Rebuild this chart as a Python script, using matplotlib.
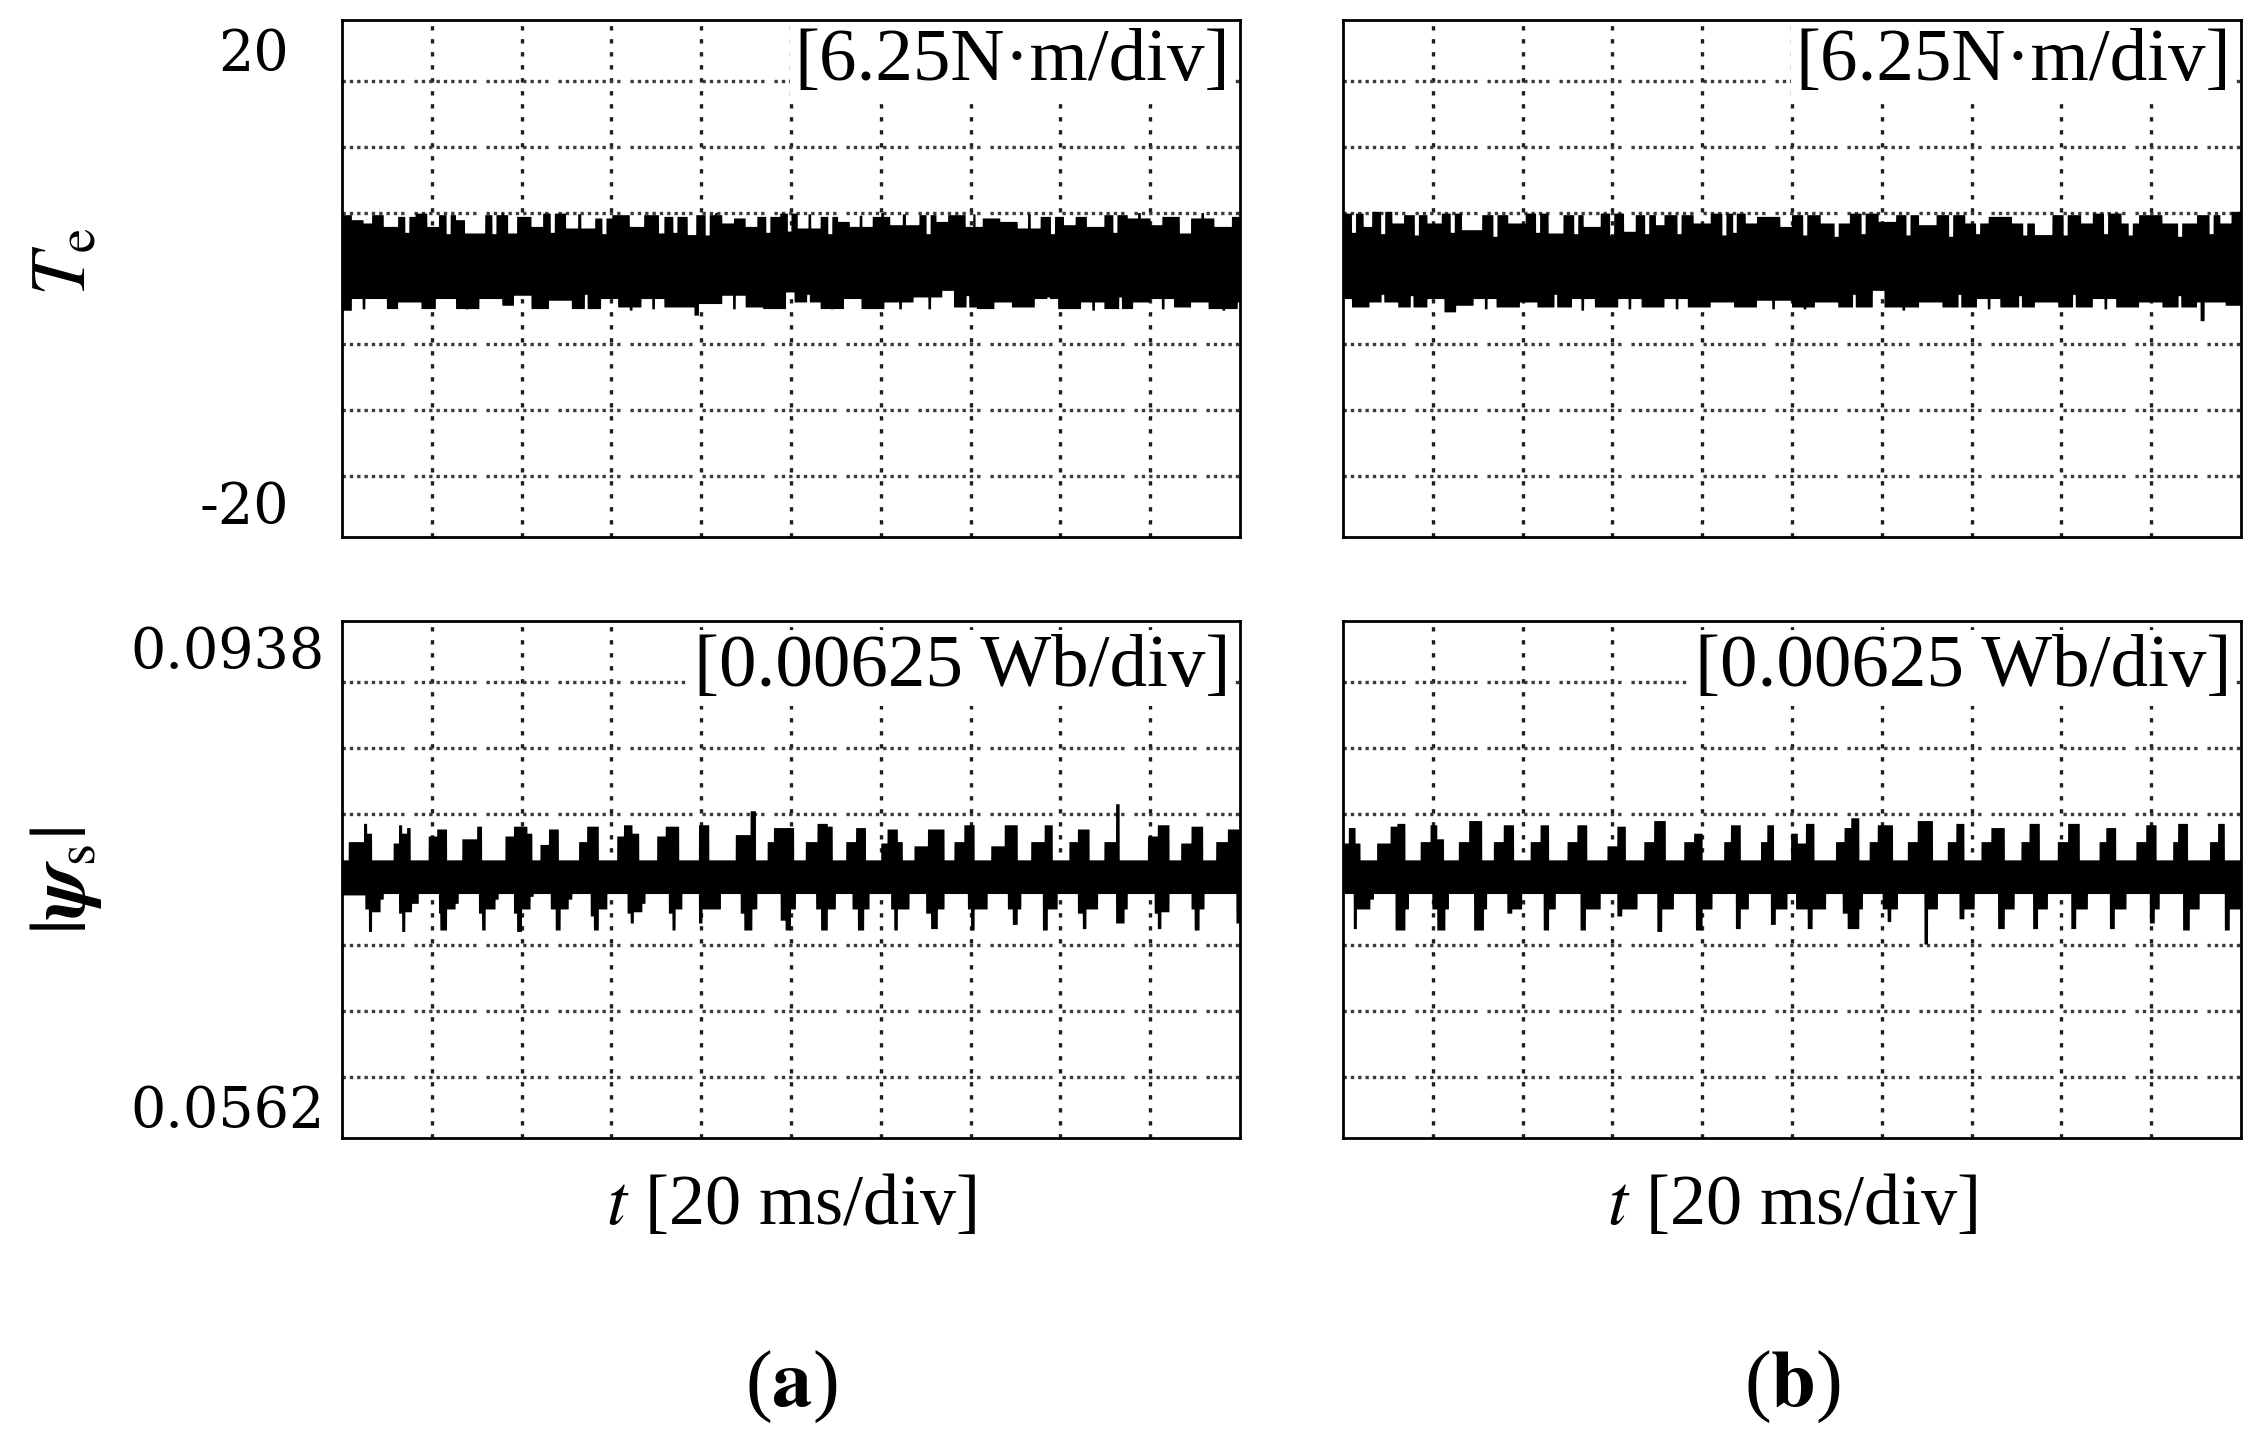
import numpy as np
import matplotlib
matplotlib.use("Agg")
import matplotlib.pyplot as plt

# ---------------- data (time in ms, envelope values) -------------
T_MIN, T_MAX = 0.0, 200.0          # 20 ms/div, 10 div
TE_CENTER, TE_DIV = 0.0, 5.0       # torque axis: -20 ... 20 over 8 div
PSI_CENTER, PSI_DIV = 0.075, 0.0047  # flux axis: 0.0562 ... 0.0938 over 8 div

TE_TICKLABELS = ["20", "-20"]
PSI_TICKLABELS = ["0.0938", "0.0562"]
TE_SCALE_TEXT = "[6.25N\u00b7m/div]"
PSI_SCALE_TEXT = "[0.00625 Wb/div]"
X_LABEL = r"$t$ [20 ms/div]"
PANEL_TAGS = [r"($\mathbf{a}$)", r"($\mathbf{b}$)"]

# torque band envelope, panel (a): (time ms, value N·m), step-wise
TE_A_UPPER = [(0, 4.84), (2.1, 4.46), (4.7, 4.21), (6.6, 4.84), (9.2, 3.95), (12.4, 4.71),
              (16.3, 4.96), (18.9, 3.95), (21.5, 4.84), (25.3, 4.46), (27.3, 3.45), (31.8, 4.84),
              (36.9, 3.45), (38.9, 4.71), (42.1, 3.95), (44.7, 4.96), (49.8, 3.83), (56.3, 4.59),
              (60.1, 4.84), (64.0, 3.95), (67.2, 4.84), (70.5, 3.45), (71.7, 4.71), (76.9, 3.33),
              (78.8, 4.84), (84.6, 4.21), (87.2, 4.59), (89.8, 3.95), (92.4, 4.71), (97.5, 4.96),
              (101.4, 3.83), (106.5, 4.71), (110.4, 4.33), (113.0, 3.95), (118.1, 4.71), (122.0, 4.08),
              (128.5, 4.84), (132.3, 4.33), (134.9, 4.84), (138.8, 3.95), (142.6, 4.59), (146.5, 4.33),
              (150.4, 3.83), (155.5, 4.71), (160.7, 4.08), (163.3, 4.71), (165.8, 3.95), (169.7, 4.84),
              (174.9, 4.59), (180.0, 4.08), (182.6, 4.71), (186.5, 3.45), (189.0, 4.59), (194.2, 3.95),
              (198.1, 4.71)]
# thin notches / spikes on that edge: (start ms, end ms, value)
TE_A_UPPER_THIN = [(14.0, 14.9, 3.5), (23.2, 24.1, 3.4), (33.4, 34.3, 3.4), (35.5, 36.0, 5.0),
                   (46.4, 47.3, 3.5), (52.5, 53.2, 4.9), (57.9, 58.8, 3.4), (73.7, 74.6, 3.5),
                   (80.9, 81.8, 3.3), (83.0, 83.5, 5.0), (94.4, 95.3, 3.5), (99.2, 100.0, 3.6),
                   (103.8, 104.4, 4.9), (108.2, 109.1, 3.4), (115.2, 115.8, 4.8), (120.0, 120.6, 5.0),
                   (124.8, 125.5, 4.9), (130.1, 131.0, 3.4), (140.5, 141.0, 4.9), (152.7, 153.3, 4.9),
                   (157.8, 158.7, 3.4), (171.7, 172.6, 3.5), (177.2, 177.8, 5.0), (191.3, 191.9, 5.0)]
TE_A_LOWER = [(0, -2.41), (2.1, -1.52), (9.9, -2.28), (12.4, -1.78), (17.6, -2.28), (20.8, -1.52),
              (25.3, -2.28), (30.5, -1.52), (35.6, -2.03), (38.2, -1.27), (42.1, -2.28), (46.0, -1.65),
              (51.1, -2.28), (57.6, -1.52), (61.4, -2.16), (66.6, -1.52), (71.7, -2.16), (76.9, -2.16),
              (78.4, -2.78), (79.4, -1.90), (84.6, -1.27), (89.8, -2.16), (93.7, -2.28), (98.8, -1.02),
              (100.7, -1.78), (106.5, -2.28), (111.7, -1.52), (115.6, -2.28), (120.7, -1.78),
              (127.2, -1.40), (133.6, -0.90), (136.2, -2.16), (141.3, -2.28), (145.2, -1.78),
              (149.1, -2.16), (154.2, -1.52), (159.4, -2.28), (164.5, -1.78), (169.7, -2.28),
              (176.1, -1.78), (180.0, -1.52), (185.2, -2.16), (189.0, -1.78), (192.9, -2.28),
              (199.4, -1.78)]
TE_A_LOWER_THIN = [(4.5, 5.1, -2.3), (27.5, 28.1, -2.3), (54.0, 54.6, -1.2), (64.0, 64.6, -2.4),
                   (69.0, 69.6, -2.3), (87.0, 87.6, -2.3), (103.5, 104.1, -1.2), (108.8, 109.4, -2.3),
                   (124.0, 124.6, -2.3), (130.5, 131.1, -2.3), (139.0, 139.6, -1.3), (157.0, 157.6, -1.4),
                   (167.0, 167.6, -2.4), (173.0, 173.6, -1.4), (182.5, 183.1, -2.3), (196.0, 196.6, -2.4)]

# torque band envelope, panel (b)
TE_B_UPPER = [(0, 4.96), (4.5, 3.95), (6.4, 5.09), (10.9, 4.21), (13.5, 4.84), (18.7, 4.21),
              (21.9, 4.96), (26.4, 3.70), (30.9, 4.84), (36.7, 4.21), (40.6, 4.96), (45.7, 3.45),
              (49.0, 4.84), (53.5, 3.95), (57.3, 4.96), (62.5, 3.58), (65.1, 4.84), (69.6, 4.08),
              (71.5, 4.84), (78.0, 4.21), (81.8, 4.96), (89.6, 4.21), (92.1, 4.71), (97.3, 3.95),
              (99.9, 4.84), (106.3, 4.21), (112.8, 4.96), (119.2, 4.33), (123.1, 4.84), (128.2, 4.08),
              (132.1, 4.84), (138.5, 4.21), (143.7, 4.71), (148.9, 4.21), (154.0, 3.33), (157.9, 4.84),
              (164.3, 4.21), (166.9, 4.96), (173.3, 4.21), (177.2, 4.84), (182.4, 4.21), (190.1, 4.84),
              (195.3, 4.21), (197.8, 5.09)]
TE_B_UPPER_THIN = [(1.9, 2.8, 3.5), (8.4, 9.3, 3.4), (15.9, 16.8, 3.3), (23.9, 24.8, 3.5),
                   (33.4, 34.3, 3.2), (42.9, 43.8, 3.5), (51.4, 52.3, 3.4), (59.4, 60.3, 3.3),
                   (67.2, 68.1, 3.4), (74.4, 75.3, 3.4), (84.4, 85.3, 3.3), (86.8, 87.6, 3.5),
                   (102.4, 103.3, 3.3), (109.4, 110.3, 3.2), (115.4, 116.3, 3.4), (125.4, 126.3, 3.3),
                   (134.9, 135.8, 3.2), (140.9, 141.8, 3.4), (151.4, 152.3, 3.3), (160.4, 161.3, 3.3),
                   (169.4, 170.3, 3.4), (174.9, 175.8, 3.3), (185.9, 186.8, 3.2), (192.9, 193.8, 3.4)]
TE_B_LOWER = [(0, -1.52), (1.9, -2.16), (5.8, -1.78), (12.2, -2.16), (18.7, -1.52), (22.5, -2.53),
              (25.1, -2.03), (29.0, -1.52), (34.1, -2.16), (39.3, -1.78), (43.2, -2.16), (50.9, -1.52),
              (56.0, -2.16), (61.2, -1.52), (66.4, -2.16), (71.5, -1.52), (76.7, -2.16), (81.8, -1.78),
              (87.0, -2.16), (92.1, -1.65), (99.9, -2.16), (105.0, -1.78), (110.2, -2.16),
              (117.9, -0.90), (120.5, -2.16), (128.2, -1.78), (133.4, -2.16), (141.1, -1.52),
              (146.3, -2.16), (154.0, -1.78), (159.2, -2.16), (166.9, -1.52), (172.1, -2.16),
              (177.2, -1.78), (182.4, -2.16), (190.1, -1.78), (190.9, -3.20), (191.8, -1.78),
              (192.7, -1.78), (196.5, -2.03)]
TE_B_LOWER_THIN = [(8.5, 9.1, -1.2), (15.0, 15.6, -1.3), (31.5, 32.1, -2.3), (47.0, 47.6, -1.2),
                   (53.0, 53.6, -2.4), (63.5, 64.1, -2.3), (74.0, 74.6, -2.3), (95.5, 96.1, -2.3),
                   (102.5, 103.1, -2.3), (113.5, 114.1, -1.2), (124.5, 125.1, -2.4), (137.0, 137.6, -1.2),
                   (143.5, 144.1, -2.3), (150.5, 151.1, -1.3), (162.5, 163.1, -1.2), (169.5, 170.1, -2.3),
                   (186.0, 186.6, -1.3)]

# flux band envelope, panel (a): (time ms, |psi_s| Wb)
PSI_A_UPPER = [(0, .0764), (1.4, .0777), (4.8, .0790), (5.5, .0783), (6.6, .0764), (11.4, .0776),
               (12.6, .0789), (13.3, .0783), (14.4, .0787), (15.2, .0764), (19.2, .0781), (21.1, .0786),
               (23.3, .0764), (26.7, .0779), (30.0, .0788), (31.1, .0764), (36.3, .0781), (38.2, .0788),
               (41.2, .0783), (42.3, .0764), (44.1, .0775), (46.0, .0786), (48.2, .0764), (52.7, .0777),
               (54.5, .0788), (57.1, .0764), (61.2, .0781), (62.7, .0789), (64.6, .0783), (66.1, .0764),
               (70.1, .0781), (72.0, .0788), (75.0, .0764), (79.4, .0789), (81.7, .0764), (87.6, .0782),
               (90.9, .0799), (92.1, .0764), (94.7, .0777), (96.1, .0787), (100.6, .0764), (103.2, .0777),
               (105.8, .0790), (108.1, .0788), (109.2, .0764), (112.2, .0777), (114.4, .0787),
               (116.6, .0764), (120.0, .0776), (121.4, .0786), (123.7, .0777), (124.8, .0764),
               (127.4, .0774), (130.4, .0786), (134.1, .0764), (136.3, .0777), (138.5, .0789),
               (140.8, .0764), (144.5, .0774), (147.5, .0789), (150.4, .0764), (153.4, .0777),
               (156.4, .0789), (158.2, .0764), (161.9, .0777), (163.8, .0786), (166.4, .0764),
               (169.7, .0777), (172.3, .0804), (173.1, .0764), (179.4, .0781), (181.6, .0789),
               (184.2, .0764), (186.8, .0776), (189.1, .0788), (191.7, .0764), (194.6, .0777),
               (197.2, .0786)]
PSI_A_LOWER = [(0, .0739), (5.1, .0729), (5.9, .0713), (6.6, .0727), (8.5, .0736), (9.2, .0740),
               (12.6, .0726), (13.3, .0713), (14.0, .0727), (15.5, .0733), (17.0, .0740), (21.5, .0726),
               (21.8, .0714), (23.3, .0729), (25.2, .0733), (25.9, .0740), (30.4, .0726), (31.1, .0714),
               (31.9, .0729), (34.1, .0736), (34.8, .0740), (38.2, .0726), (38.9, .0713), (40.0, .0729),
               (41.9, .0738), (42.6, .0740), (46.4, .0729), (47.5, .0714), (48.6, .0729), (50.4, .0736),
               (51.2, .0740), (55.3, .0724), (56.0, .0714), (57.1, .0729), (59.0, .0740), (63.5, .0726),
               (64.2, .0719), (64.9, .0727), (66.8, .0733), (67.5, .0740), (72.7, .0726), (73.5, .0714),
               (74.2, .0729), (75.7, .0740), (79.4, .0719), (80.2, .0729), (84.3, .0740), (88.7, .0726),
               (89.5, .0714), (91.3, .0729), (92.4, .0740), (97.6, .0721), (98.7, .0714), (99.9, .0729),
               (101.0, .0740), (105.5, .0729), (106.6, .0714), (108.1, .0729), (109.9, .0740),
               (113.6, .0729), (114.8, .0714), (116.2, .0729), (117.4, .0740), (122.2, .0729),
               (122.9, .0714), (123.7, .0729), (126.3, .0740), (130.0, .0726), (131.1, .0715),
               (132.6, .0729), (134.1, .0740), (139.3, .0729), (140.0, .0714), (140.8, .0729),
               (143.7, .0740), (148.2, .0729), (149.3, .0718), (150.4, .0729), (151.2, .0740),
               (156.0, .0714), (157.1, .0729), (159.3, .0740), (163.8, .0726), (164.9, .0715),
               (165.7, .0729), (168.3, .0740), (172.3, .0719), (174.2, .0729), (174.9, .0740),
               (180.9, .0726), (181.6, .0715), (182.4, .0727), (184.2, .0740), (189.1, .0729),
               (189.8, .0714), (190.9, .0729), (192.0, .0740), (199.1, .0719)]

# flux band envelope, panel (b)
PSI_B_UPPER = [(0, .0776), (1.2, .0787), (2.7, .0776), (3.8, .0764), (7.5, .0776), (10.5, .0788),
               (12.0, .0790), (13.8, .0764), (17.2, .0777), (19.4, .0789), (20.9, .0779), (22.4, .0764),
               (25.7, .0777), (28.0, .0792), (30.9, .0764), (33.5, .0777), (35.7, .0789), (38.0, .0764),
               (41.7, .0777), (43.9, .0789), (45.8, .0764), (49.9, .0777), (52.1, .0789), (54.3, .0764),
               (58.8, .0774), (61.0, .0788), (62.9, .0764), (67.0, .0777), (69.2, .0792), (71.8, .0764),
               (75.9, .0777), (78.1, .0783), (80.0, .0764), (84.8, .0777), (86.3, .0789), (88.5, .0764),
               (93.0, .0777), (94.4, .0789), (95.9, .0764), (99.7, .0783), (101.2, .0776), (103.0, .0790),
               (104.9, .0764), (109.7, .0777), (111.6, .0787), (113.1, .0794), (114.9, .0764),
               (117.2, .0777), (119.0, .0789), (122.4, .0764), (125.7, .0777), (127.9, .0792),
               (131.3, .0764), (134.6, .0777), (136.5, .0790), (138.3, .0764), (142.1, .0777),
               (144.3, .0787), (147.3, .0764), (151.0, .0777), (152.8, .0790), (155.1, .0764),
               (159.1, .0777), (161.4, .0790), (164.0, .0764), (168.4, .0777), (169.9, .0787),
               (172.1, .0764), (176.6, .0777), (178.8, .0789), (181.1, .0764), (184.8, .0777),
               (185.9, .0790), (188.1, .0764), (193.0, .0777), (194.8, .0790), (196.3, .0764)]
PSI_B_LOWER = [(0, .0740), (2.3, .0715), (3.0, .0729), (6.0, .0736), (6.8, .0740), (11.6, .0714),
               (13.8, .0729), (14.6, .0740), (19.8, .0729), (20.9, .0714), (22.7, .0729), (23.5, .0740),
               (29.1, .0714), (31.3, .0729), (32.0, .0740), (36.5, .0726), (37.6, .0729), (39.8, .0740),
               (44.6, .0714), (45.8, .0729), (47.3, .0740), (52.8, .0714), (54.0, .0729), (57.3, .0740),
               (61.0, .0724), (62.1, .0729), (65.5, .0740), (69.9, .0713), (71.0, .0729), (73.6, .0740),
               (78.5, .0714), (80.0, .0729), (82.2, .0740), (87.4, .0715), (88.5, .0729), (90.3, .0740),
               (95.2, .0718), (96.3, .0729), (98.9, .0740), (100.8, .0729), (103.4, .0715),
               (104.5, .0729), (107.5, .0740), (111.2, .0726), (112.3, .0715), (114.9, .0729),
               (115.7, .0740), (120.1, .0729), (121.2, .0720), (122.0, .0729), (123.5, .0740),
               (129.4, .0704), (130.2, .0729), (132.4, .0740), (137.2, .0722), (138.3, .0729),
               (140.6, .0740), (145.8, .0715), (147.3, .0729), (149.5, .0740), (153.6, .0715),
               (154.7, .0729), (156.9, .0740), (162.1, .0715), (163.2, .0729), (165.8, .0740),
               (170.7, .0715), (171.8, .0729), (174.4, .0740), (179.6, .0719), (180.7, .0729),
               (181.8, .0740), (187.0, .0714), (188.5, .0729), (190.7, .0740), (196.3, .0714),
               (197.4, .0729)]

# ---------------- figure ----------------
plt.rcParams["font.family"] = ["Liberation Serif", "DejaVu Serif"]
plt.rcParams["mathtext.fontset"] = "stix"

W, H = 2265, 1439
fig = plt.figure(figsize=(W / 100, H / 100), dpi=100)
fig.patch.set_facecolor("white")


def px_axes(l, t, r, b):
    return fig.add_axes([l / W, 1 - b / H, (r - l) / W, (b - t) / H])


def step_eval(pairs, grid, thin=()):
    tb = np.array([p[0] for p in pairs], dtype=float)
    vb = np.array([p[1] for p in pairs], dtype=float)
    idx = np.searchsorted(tb, grid, side="right") - 1
    out = vb[np.clip(idx, 0, len(vb) - 1)]
    for t0, t1, v in thin:
        out[(grid >= t0) & (grid < t1)] = v
    return out


H_DOTS = (0, (1.0, 1.2) * 8 + (1.0, 3.0))


def scope_panel(ax, center, div, upper, lower, up_thin=(), lo_thin=(), half_span=3.92):
    ax.set_xlim(T_MIN, T_MAX)
    ax.set_ylim(center - half_span * div, center + half_span * div)
    ax.set_xticks([])
    ax.set_yticks([])
    for k in range(1, 10):
        ax.axvline(T_MIN + k * (T_MAX - T_MIN) / 10, color="#1e1e1e", lw=2.4,
                   linestyle=(0, (1.3, 2.6)), zorder=1)
    for k in (-3, -2, -1, 0, 1, 2, 3):
        ax.axhline(center + k * div, color="#3a3a3a", lw=2.4,
                   linestyle=H_DOTS, zorder=1)
    grid = np.linspace(T_MIN, T_MAX, 8001)
    hi = step_eval(upper, grid, up_thin)
    lo = step_eval(lower, grid, lo_thin)
    ax.fill_between(grid, lo, hi, color="black", lw=0, zorder=3)
    for s in ax.spines.values():
        s.set_linewidth(2.0)
        s.set_color("black")
        s.set_zorder(5)


def scale_note(ax, s, y_frac):
    # right-aligned annotation inside the panel, white-backed over the grid
    ax.text(0.989, y_frac, s, transform=ax.transAxes, ha="right", va="center", fontsize=54,
            zorder=10, bbox=dict(facecolor="white", edgecolor="none", pad=3))


def ftext(x, y, s, **kw):
    return fig.text(x / W, 1 - y / H, s, **kw)


ax_ta = px_axes(342, 20, 1240, 537)
ax_fa = px_axes(342, 621, 1240, 1138)
ax_tb = px_axes(1343, 20, 2241, 537)
ax_fb = px_axes(1343, 621, 2241, 1138)

scope_panel(ax_ta, TE_CENTER, TE_DIV, TE_A_UPPER, TE_A_LOWER, TE_A_UPPER_THIN, TE_A_LOWER_THIN)
scope_panel(ax_tb, TE_CENTER, TE_DIV, TE_B_UPPER, TE_B_LOWER, TE_B_UPPER_THIN, TE_B_LOWER_THIN)
scope_panel(ax_fa, PSI_CENTER, PSI_DIV, PSI_A_UPPER, PSI_A_LOWER)
scope_panel(ax_fb, PSI_CENTER, PSI_DIV, PSI_B_UPPER, PSI_B_LOWER)

for ax in (ax_ta, ax_tb):
    scale_note(ax, TE_SCALE_TEXT, 1 - (62 - 20) / 517)
for ax in (ax_fa, ax_fb):
    scale_note(ax, PSI_SCALE_TEXT, 1 - (668 - 621) / 517)

# y end labels
ftext(289, 55, TE_TICKLABELS[0], ha="right", va="center", fontsize=40, family="DejaVu Serif")
ftext(289, 508, TE_TICKLABELS[1], ha="right", va="center", fontsize=40, family="DejaVu Serif")
ftext(325, 653, PSI_TICKLABELS[0], ha="right", va="center", fontsize=40, family="DejaVu Serif")
ftext(325, 1112, PSI_TICKLABELS[1], ha="right", va="center", fontsize=40, family="DejaVu Serif")

# y axis titles
ftext(66, 262, r"$T_{\mathrm{e}}$", rotation=90, ha="center", va="center", fontsize=56)
ftext(66, 881, r"$|\boldsymbol{\psi}_{\mathrm{s}}|$", rotation=90, ha="center", va="center",
      fontsize=58)

# x labels and panel tags
for cx, tag in zip((791, 1792), PANEL_TAGS):
    ftext(cx, 1206, X_LABEL, ha="center", va="center", fontsize=52)
    ftext(cx, 1387, tag, ha="center", va="center", fontsize=58)

fig.savefig("out.png", dpi=100, facecolor="white")
